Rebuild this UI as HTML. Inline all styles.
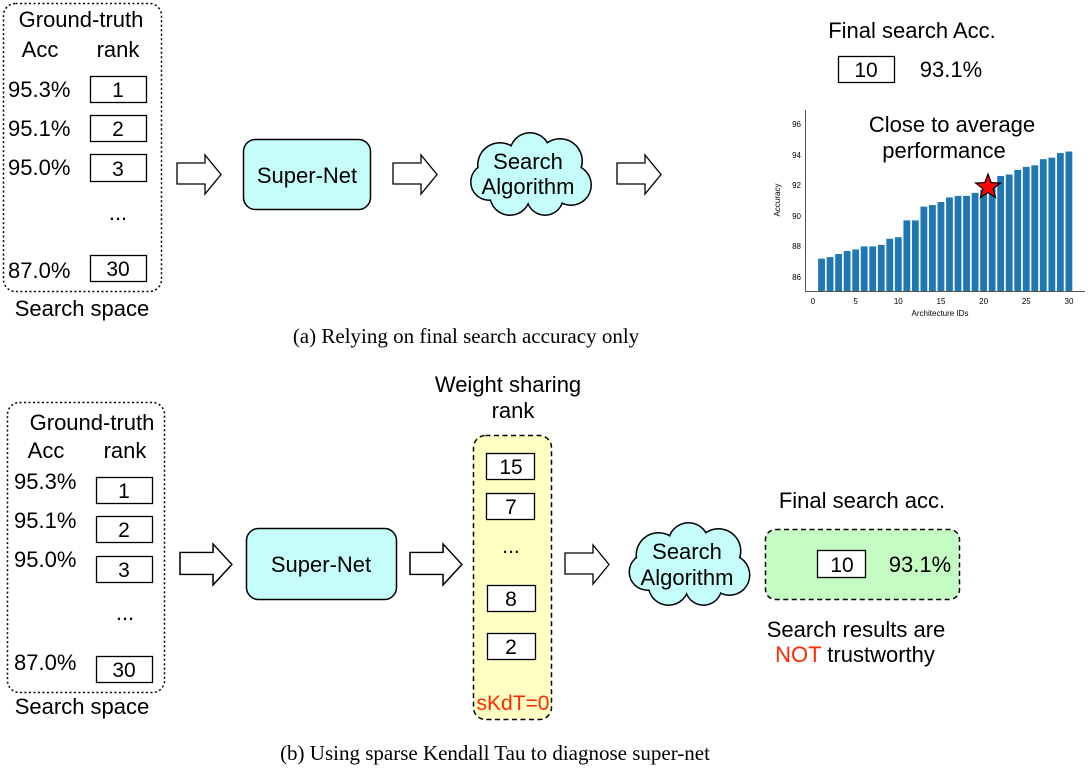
<!DOCTYPE html>
<html><head><meta charset="utf-8"><style>
html,body{margin:0;padding:0;background:#fff;}
svg{display:block;}
text{font-family:"Liberation Sans",sans-serif;fill:#000;}
.s{font-family:"Liberation Serif",serif;}
</style></head><body>
<svg id="svg" width="1091" height="777" viewBox="0 0 1091 777" xmlns="http://www.w3.org/2000/svg">
<defs>
<g id="cloud">
<g fill="#000">
<circle cx="500" cy="165" r="23"/><circle cx="530" cy="153" r="21"/><circle cx="560" cy="161" r="23"/><circle cx="571" cy="185" r="21"/><circle cx="545" cy="197" r="19"/><circle cx="510" cy="195" r="21"/><circle cx="489" cy="182" r="19"/>
</g>
<g fill="#c4fdfa">
<circle cx="500" cy="165" r="21.5"/><circle cx="530" cy="153" r="19.5"/><circle cx="560" cy="161" r="21.5"/><circle cx="571" cy="185" r="19.5"/><circle cx="545" cy="197" r="17.5"/><circle cx="510" cy="195" r="19.5"/><circle cx="489" cy="182" r="17.5"/>
<rect x="495" y="160" width="65" height="35"/>
</g>
</g>
<path id="arr" d="M0,8 H28 V0 L44,19.5 L28,39 V29 H0 Z" fill="#fff" stroke="#000" stroke-width="1.3"/>
</defs>

<!-- TOP PANEL -->
<rect x="3.5" y="3.5" width="158" height="288" rx="12" fill="none" stroke="#000" stroke-width="1.5" stroke-dasharray="2,2.5"/>
<g font-size="22">
<text x="81" y="27" text-anchor="middle">Ground-truth</text>
<text x="40" y="57" text-anchor="middle">Acc</text>
<text x="118" y="57" text-anchor="middle">rank</text>
<text x="8" y="97">95.3%</text>
<text x="8" y="136">95.1%</text>
<text x="8" y="175">95.0%</text>
<text x="8" y="278">87.0%</text>
<text x="118" y="220" text-anchor="middle">...</text>
<text x="82" y="316" text-anchor="middle">Search space</text>
</g>
<g fill="#fff" stroke="#000" stroke-width="1.3">
<rect x="90.5" y="76.5" width="56" height="26"/>
<rect x="90.5" y="115.5" width="56" height="26"/>
<rect x="90.5" y="154.5" width="56" height="27"/>
<rect x="90.5" y="255.5" width="56" height="26"/>
</g>
<g font-size="21" text-anchor="middle">
<text x="118" y="97">1</text><text x="118" y="136">2</text><text x="118" y="176">3</text><text x="118" y="276">30</text>
</g>

<use href="#arr" x="177" y="155"/>
<rect x="243.5" y="139.5" width="127" height="70" rx="12" fill="#c4fdfa" stroke="#000" stroke-width="1.5"/>
<text x="307" y="183" font-size="22" text-anchor="middle">Super-Net</text>
<use href="#arr" x="393" y="155"/>
<use href="#cloud"/>
<text x="528" y="169" font-size="22" text-anchor="middle">Search</text>
<text x="528" y="194" font-size="22" text-anchor="middle">Algorithm</text>
<use href="#arr" x="617" y="155"/>

<text x="912" y="38" font-size="22" text-anchor="middle">Final search Acc.</text>
<rect x="838.5" y="56.5" width="56" height="26" fill="#fff" stroke="#000" stroke-width="1.3"/>
<text x="866" y="77" font-size="21" text-anchor="middle">10</text>
<text x="951" y="77" font-size="22" text-anchor="middle">93.1%</text>

<!-- chart -->
<g id="bars"></g>
<g stroke="#555" stroke-width="1">
<line x1="805.5" y1="110" x2="805.5" y2="292"/>
<line x1="805" y1="291.5" x2="1085" y2="291.5"/>
</g>
<g font-size="8" fill="#444" text-anchor="end">
<text x="801" y="127" fill="#444">96</text>
<text x="801" y="158" fill="#444">94</text>
<text x="801" y="188" fill="#444">92</text>
<text x="801" y="219" fill="#444">90</text>
<text x="801" y="249" fill="#444">88</text>
<text x="801" y="280" fill="#444">86</text>
</g>
<g font-size="8" text-anchor="middle">
<text x="813" y="304" fill="#444">0</text>
<text x="855.6" y="304" fill="#444">5</text>
<text x="898.3" y="304" fill="#444">10</text>
<text x="941" y="304" fill="#444">15</text>
<text x="983.6" y="304" fill="#444">20</text>
<text x="1026.3" y="304" fill="#444">25</text>
<text x="1069" y="304" fill="#444">30</text>
<text x="940" y="316" fill="#444">Architecture IDs</text>
</g>
<text x="780" y="200" font-size="8" fill="#444" text-anchor="middle" transform="rotate(-90 780 200)">Accuracy</text>
<text x="952" y="132" font-size="22" text-anchor="middle">Close to average</text>
<text x="944" y="158" font-size="22" text-anchor="middle">performance</text>
<polygon id="star" fill="#ff0000" stroke="#000" stroke-width="1.2" points=""/>

<text x="466" y="343" class="s" font-size="21" text-anchor="middle">(a) Relying on final search accuracy only</text>

<!-- BOTTOM PANEL -->
<rect x="7.5" y="402.5" width="157" height="290" rx="12" fill="none" stroke="#000" stroke-width="1.5" stroke-dasharray="2,2.5"/>
<g font-size="22">
<text x="92" y="430" text-anchor="middle">Ground-truth</text>
<text x="46" y="458" text-anchor="middle">Acc</text>
<text x="125" y="458" text-anchor="middle">rank</text>
<text x="14" y="489">95.3%</text>
<text x="14" y="528">95.1%</text>
<text x="14" y="567">95.0%</text>
<text x="14" y="670">87.0%</text>
<text x="125" y="620" text-anchor="middle">...</text>
<text x="82" y="714" text-anchor="middle">Search space</text>
</g>
<g fill="#fff" stroke="#000" stroke-width="1.3">
<rect x="96.5" y="477.5" width="56" height="26"/>
<rect x="96.5" y="516.5" width="56" height="26"/>
<rect x="96.5" y="556.5" width="56" height="26"/>
<rect x="96.5" y="656.5" width="56" height="26"/>
</g>
<g font-size="21" text-anchor="middle">
<text x="124" y="498">1</text><text x="124" y="537">2</text><text x="124" y="577">3</text><text x="124" y="677">30</text>
</g>

<use href="#arr" x="180" y="544" transform="translate(180,544) scale(1.18,1.05) translate(-180,-544)"/>
<rect x="246.5" y="528.5" width="150" height="71" rx="12" fill="#c4fdfa" stroke="#000" stroke-width="1.5"/>
<text x="321" y="572" font-size="22" text-anchor="middle">Super-Net</text>
<use href="#arr" x="410" y="544" transform="translate(410,544) scale(1.18,1.05) translate(-410,-544)"/>

<text x="508" y="392" font-size="22" text-anchor="middle">Weight sharing</text>
<text x="513" y="418" font-size="22" text-anchor="middle">rank</text>
<rect x="473.5" y="435.5" width="78" height="284" rx="12" fill="#ffffc4" stroke="#000" stroke-width="1.5" stroke-dasharray="5,3.5"/>
<g fill="#fff" stroke="#000" stroke-width="1.3">
<rect x="486.5" y="453.5" width="48" height="26"/>
<rect x="486.5" y="493.5" width="48" height="26"/>
<rect x="487.5" y="585.5" width="48" height="26"/>
<rect x="487.5" y="633.5" width="48" height="26"/>
</g>
<g font-size="21" text-anchor="middle">
<text x="511" y="474">15</text><text x="511" y="514">7</text><text x="511" y="553">...</text><text x="511" y="606">8</text><text x="511" y="654">2</text>
</g>
<text x="513" y="710" font-size="21" text-anchor="middle" style="fill:#ff2a00">sKdT=0</text>

<use href="#arr" x="565" y="545"/>
<use href="#cloud" transform="translate(158.5,390)"/>
<text x="687" y="559" font-size="22" text-anchor="middle">Search</text>
<text x="687" y="585" font-size="22" text-anchor="middle">Algorithm</text>

<text x="862" y="508" font-size="22" text-anchor="middle">Final search acc.</text>
<rect x="765.5" y="529.5" width="194" height="70" rx="10" fill="#c4fcc4" stroke="#000" stroke-width="1.5" stroke-dasharray="5,3.5"/>
<rect x="817.5" y="550.5" width="48" height="27" fill="#fff" stroke="#000" stroke-width="1.3"/>
<text x="842" y="572" font-size="21" text-anchor="middle">10</text>
<text x="920" y="572" font-size="22" text-anchor="middle">93.1%</text>
<text x="856" y="637" font-size="22" text-anchor="middle">Search results are</text>
<text x="855" y="662" font-size="22" text-anchor="middle"><tspan style="fill:#ff2a00">NOT</tspan> trustworthy</text>

<text x="495" y="760" class="s" font-size="21" text-anchor="middle">(b) Using sparse Kendall Tau to diagnose super-net</text>
</svg>
<script>
(function(){
var v=[87.2,87.3,87.5,87.7,87.8,88.0,88.0,88.1,88.5,88.6,89.7,89.7,90.6,90.7,90.9,91.2,91.3,91.3,91.5,91.7,91.9,92.6,92.7,93.0,93.2,93.3,93.7,93.8,94.1,94.2];
var g=document.getElementById('bars'),ns='http://www.w3.org/2000/svg';
for(var i=0;i<30;i++){var x=813+8.53*(i+1)-3.4,y=277-(v[i]-86)*15.3;
var r=document.createElementNS(ns,'rect');r.setAttribute('x',x);r.setAttribute('y',y);r.setAttribute('width',6.8);r.setAttribute('height',292-y);r.setAttribute('fill','#1f77b4');g.appendChild(r);}
var cx=988,cy=187,R=13,r2=5.5,p=[];
for(var k=0;k<10;k++){var a=-Math.PI/2+k*Math.PI/5,rr=k%2?r2:R;p.push((cx+rr*Math.cos(a)).toFixed(1)+','+(cy+rr*Math.sin(a)).toFixed(1));}
document.getElementById('star').setAttribute('points',p.join(' '));
})();
</script>
</body></html>
